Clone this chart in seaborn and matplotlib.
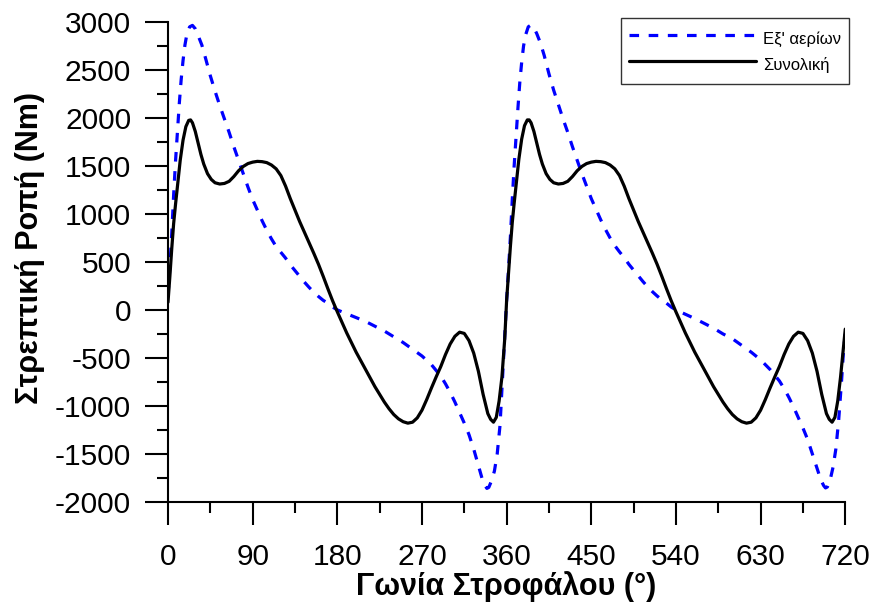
import numpy as np
import pandas as pd
import matplotlib
matplotlib.use("Agg")
import matplotlib.pyplot as plt
import seaborn as sns
from matplotlib.ticker import MultipleLocator

# ---- data ----
# gas-pressure torque, first cycle (0-358 deg)
gas_angle_1 = [0, 2, 4, 6, 8, 10, 12, 14, 16, 18,
               20, 23, 26, 29, 32, 36, 40, 45, 50, 55,
               60, 65, 70, 75, 80, 85, 90, 95, 100, 105,
               110, 115, 120, 125, 130, 135, 140, 145, 150, 155,
               160, 165, 170, 175, 180, 190, 200, 210, 220, 230,
               240, 250, 260, 270, 280, 290, 295, 300, 305, 310,
               315, 320, 325, 330, 334, 337, 339, 341, 344, 347,
               350, 353, 356, 358]
gas_torque_1 = [150, 450, 800, 1200, 1550, 1850, 2150, 2400, 2600, 2760,
                2870, 2950, 2965, 2930, 2860, 2760, 2620, 2440, 2280, 2130,
                1990, 1850, 1700, 1560, 1420, 1280, 1150, 1040, 930, 830,
                740, 660, 600, 540, 470, 410, 350, 290, 235, 185,
                140, 100, 70, 30, 0, -40, -80, -120, -170, -220,
                -280, -340, -410, -480, -570, -690, -770, -860, -960, -1070,
                -1180, -1300, -1450, -1620, -1760, -1830, -1860, -1850, -1780, -1680,
                -1500, -1200, -650, -280]
# gas-pressure torque, second cycle (360-720 deg)
gas_angle_2 = [360, 362, 364, 366, 368, 370, 372, 374, 376, 378,
               380, 383, 386, 389, 392, 396, 400, 405, 410, 415,
               420, 425, 430, 435, 440, 445, 450, 455, 460, 465,
               470, 475, 480, 485, 490, 495, 500, 505, 510, 515,
               520, 525, 530, 535, 540, 550, 560, 570, 580, 590,
               600, 610, 620, 630, 640, 650, 655, 660, 665, 670,
               675, 680, 685, 690, 694, 697, 699, 701, 704, 707,
               710, 713, 716, 718, 720]
gas_torque_2 = [100, 420, 760, 1150, 1500, 1800, 2100, 2370, 2580, 2750,
                2860, 2950, 2970, 2940, 2880, 2780, 2650, 2460, 2290, 2140,
                1990, 1850, 1700, 1560, 1420, 1290, 1160, 1050, 940, 840,
                750, 670, 605, 545, 475, 415, 355, 295, 240, 190,
                145, 105, 70, 30, 0, -45, -90, -140, -190, -250,
                -300, -370, -440, -520, -620, -740, -820, -910, -1010, -1120,
                -1230, -1350, -1500, -1650, -1770, -1830, -1855, -1845, -1770, -1640,
                -1450, -1150, -750, -450, -250]

# total torque, first cycle
tot_angle_1 = [0, 2, 4, 6, 8, 10, 13, 16, 19, 22,
               24, 26, 29, 32, 35, 38, 42, 46, 50, 55,
               60, 65, 70, 75, 80, 85, 90, 95, 100, 105,
               110, 115, 120, 125, 130, 135, 140, 145, 150, 155,
               160, 165, 170, 175, 180, 185, 190, 195, 200, 205,
               210, 215, 220, 225, 230, 235, 240, 245, 250, 255,
               260, 265, 270, 275, 280, 285, 290, 295, 300, 305,
               310, 315, 320, 325, 330, 335, 340, 343, 346, 349,
               352, 355, 358]
tot_torque_1 = [80, 350, 640, 900, 1100, 1280, 1560, 1770, 1910, 1975,
                1980, 1950, 1860, 1740, 1620, 1520, 1420, 1360, 1325, 1312,
                1318, 1340, 1390, 1450, 1495, 1525, 1540, 1548, 1545, 1535,
                1510, 1470, 1400, 1290, 1160, 1040, 920, 810, 700, 590,
                475, 350, 220, 95, -20, -130, -240, -340, -440, -530,
                -620, -710, -800, -880, -960, -1030, -1090, -1135, -1165, -1180,
                -1170, -1125, -1045, -935, -815, -700, -590, -465, -355, -275,
                -232, -245, -320, -450, -640, -880, -1080, -1140, -1170, -1120,
                -950, -700, -300]
# total torque, second cycle
tot_angle_2 = [360, 362, 364, 366, 368, 370, 373, 376, 379, 382,
               384, 386, 389, 392, 395, 398, 402, 406, 410, 415,
               420, 425, 430, 435, 440, 445, 450, 455, 460, 465,
               470, 475, 480, 485, 490, 495, 500, 505, 510, 515,
               520, 525, 530, 535, 540, 545, 550, 555, 560, 565,
               570, 575, 580, 585, 590, 595, 600, 605, 610, 615,
               620, 625, 630, 635, 640, 645, 650, 655, 660, 665,
               670, 675, 680, 685, 690, 695, 700, 703, 706, 709,
               712, 715, 718, 720]
tot_torque_2 = [100, 380, 660, 910, 1110, 1290, 1570, 1780, 1920, 1980,
                1980, 1950, 1860, 1740, 1620, 1520, 1420, 1360, 1325, 1312,
                1318, 1340, 1390, 1450, 1495, 1525, 1540, 1548, 1545, 1535,
                1510, 1470, 1400, 1290, 1160, 1040, 920, 810, 700, 590,
                475, 350, 220, 95, -20, -130, -240, -340, -440, -530,
                -620, -710, -800, -880, -960, -1030, -1090, -1135, -1165, -1180,
                -1170, -1125, -1045, -935, -815, -700, -590, -465, -355, -275,
                -232, -245, -320, -450, -640, -880, -1080, -1140, -1170, -1120,
                -950, -700, -400, -200]

label_gas = "Εξ' αερίων"
label_tot = "Συνολική"
xlabel = "Γωνία Στροφάλου (°)"
ylabel = "Στρεπτική Ροπή (Nm)"
xticks = [0, 90, 180, 270, 360, 450, 540, 630, 720]
yticks = [-2000, -1500, -1000, -500, 0, 500, 1000, 1500, 2000, 2500, 3000]

df_gas = pd.DataFrame({"angle": gas_angle_1 + gas_angle_2,
                       "torque": gas_torque_1 + gas_torque_2})
df_tot = pd.DataFrame({"angle": tot_angle_1 + tot_angle_2,
                       "torque": tot_torque_1 + tot_torque_2})

sns.set_style("ticks")
plt.rcParams["font.family"] = ["Liberation Sans", "DejaVu Sans"]
plt.rcParams["axes.unicode_minus"] = False
plt.rcParams["text.color"] = "black"
plt.rcParams["axes.labelcolor"] = "black"

fig = plt.figure(figsize=(8.75, 6.12), dpi=100)
ax = fig.add_axes([0.192, 0.180, 0.774, 0.784])

sns.lineplot(data=df_gas, x="angle", y="torque", ax=ax, color="#0000FF", lw=2.3,
             linestyle=(0, (3.0, 3.0)), label=label_gas, sort=False)
sns.lineplot(data=df_tot, x="angle", y="torque", ax=ax, color="black", lw=2.3,
             label=label_tot, sort=False)

ax.set_xlim(0, 720)
ax.set_ylim(-2000, 3000)
ax.set_xticks(xticks)
ax.set_yticks(yticks)
ax.xaxis.set_minor_locator(MultipleLocator(45))
ax.yaxis.set_minor_locator(MultipleLocator(250))
ax.tick_params(axis="both", which="major", length=16.5, width=1.5, labelsize=21.5,
               direction="out", colors="black", labelcolor="black", pad=10)
ax.tick_params(axis="both", which="minor", length=8, width=1.5, direction="out", colors="black")
ax.tick_params(axis="x", which="major", pad=13)
for s in ["top", "right"]:
    ax.spines[s].set_visible(False)
for s in ["left", "bottom"]:
    ax.spines[s].set_linewidth(1.5)
    ax.spines[s].set_color("black")

ax.set_xlabel(xlabel, fontsize=22, fontweight="bold", labelpad=0, color="black")
ax.set_ylabel(ylabel, fontsize=22, fontweight="bold", labelpad=6, color="black")
ax.yaxis.set_label_coords(-0.182, 0.53)

leg = ax.legend(loc="upper right", bbox_to_anchor=(849 / 875, 1 - 18 / 612),
                bbox_transform=fig.transFigure, fontsize=12, handlelength=7.6,
                handleheight=1.8, frameon=True, fancybox=False, edgecolor="black",
                borderpad=0.5, labelspacing=0.15, handletextpad=0.42, borderaxespad=0)
leg.get_frame().set_linewidth(1.0)

fig.savefig("out.png", dpi=100)
